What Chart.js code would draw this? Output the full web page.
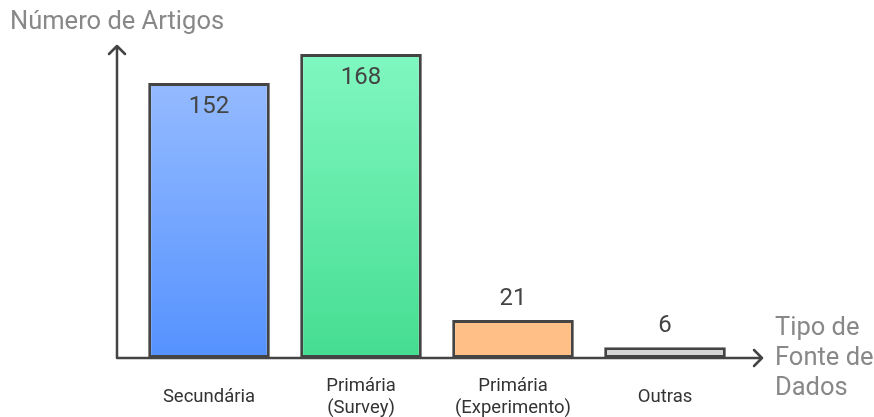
<!DOCTYPE html>
<html>
<head>
<meta charset="utf-8">
<script src="https://cdn.jsdelivr.net/npm/chart.js@4"></script>
<style>
  html, body { margin: 0; padding: 0; background: #fff; }
  #wrap { width: 874px; height: 417px; position: relative; }
</style>
</head>
<body>
<div id="wrap"><canvas id="grafico"></canvas></div>
<script>
const categorias = [['Secundária'], ['Primária', '(Survey)'], ['Primária', '(Experimento)'], ['Outras']];
const artigos = [152, 168, 21, 6];
const coresTopo = ['#9dc0ff', '#82f8c2', '#ffbf86', '#d6d6d6'];
const coresBase = ['#5592ff', '#45dd91', '#ffbf86', '#d6d6d6'];

const tituloY = 'Número de Artigos';
const tituloX = ['Tipo de', 'Fonte de', 'Dados'];

const eixos = {
    id: 'eixos',
    afterDatasetsDraw(chart) {
        const ctx = chart.ctx;
        const x = chart.scales.x, y = chart.scales.y;
        const base = y.getPixelForValue(0);
        const x0 = 117, xFim = 762, yTopo = 46;

        ctx.save();
        ctx.strokeStyle = '#444';
        ctx.lineWidth = 2.5;
        ctx.lineCap = 'round';
        ctx.lineJoin = 'round';
        ctx.beginPath();
        ctx.moveTo(x0, base);
        ctx.lineTo(x0, yTopo);
        ctx.moveTo(x0 - 8, yTopo + 8);
        ctx.lineTo(x0, yTopo);
        ctx.lineTo(x0 + 8, yTopo + 8);
        ctx.moveTo(x0, base);
        ctx.lineTo(xFim, base);
        ctx.moveTo(xFim - 8, base - 8);
        ctx.lineTo(xFim, base);
        ctx.lineTo(xFim - 8, base + 8);
        ctx.stroke();

        // valores das barras
        ctx.fillStyle = '#444';
        ctx.font = '24px Roboto';
        ctx.textAlign = 'center';
        ctx.textBaseline = 'middle';
        chart.getDatasetMeta(0).data.forEach((bar, i) => {
            const alto = base - bar.y > 60;
            ctx.fillText(String(artigos[i]), bar.x, alto ? bar.y + 24 : bar.y - 21);
        });

        // rótulos das categorias
        ctx.fillStyle = '#333';
        ctx.font = '18.5px Roboto';
        categorias.forEach((linhas, i) => {
            const cx = x.getPixelForValue(i);
            const inicio = 397 - (linhas.length - 1) * 11;
            linhas.forEach((t, j) => ctx.fillText(t, cx, inicio + j * 22));
        });

        // títulos dos eixos
        ctx.fillStyle = '#888';
        ctx.font = '25.5px Roboto';
        ctx.textAlign = 'left';
        ctx.fillText(tituloY, 10, 23);
        tituloX.forEach((t, j) => ctx.fillText(t, 775, 329 + j * 30));
        ctx.restore();
    }
};

new Chart(document.getElementById('grafico'), {
    type: 'bar',
    data: {
        labels: categorias,
        datasets: [{
            data: artigos,
            backgroundColor(c) {
                const area = c.chart.chartArea;
                if (!area) return coresBase[c.dataIndex];
                const g = c.chart.ctx.createLinearGradient(0, area.top, 0, area.bottom);
                g.addColorStop(0, coresTopo[c.dataIndex]);
                g.addColorStop(1, coresBase[c.dataIndex]);
                return g;
            },
            borderColor: '#444',
            borderWidth: 3,
            borderSkipped: false,
            barPercentage: 0.8,
            categoryPercentage: 1
        }]
    },
    options: {
        responsive: true,
        maintainAspectRatio: false,
        animation: false,
        layout: { padding: { left: 133, right: 133, top: 45, bottom: 59 } },
        plugins: { legend: { display: false }, tooltip: { enabled: false } },
        scales: {
            x: { display: false },
            y: { display: false, min: 0, max: 173 }
        }
    },
    plugins: [eixos]
});
</script>
</body>
</html>
